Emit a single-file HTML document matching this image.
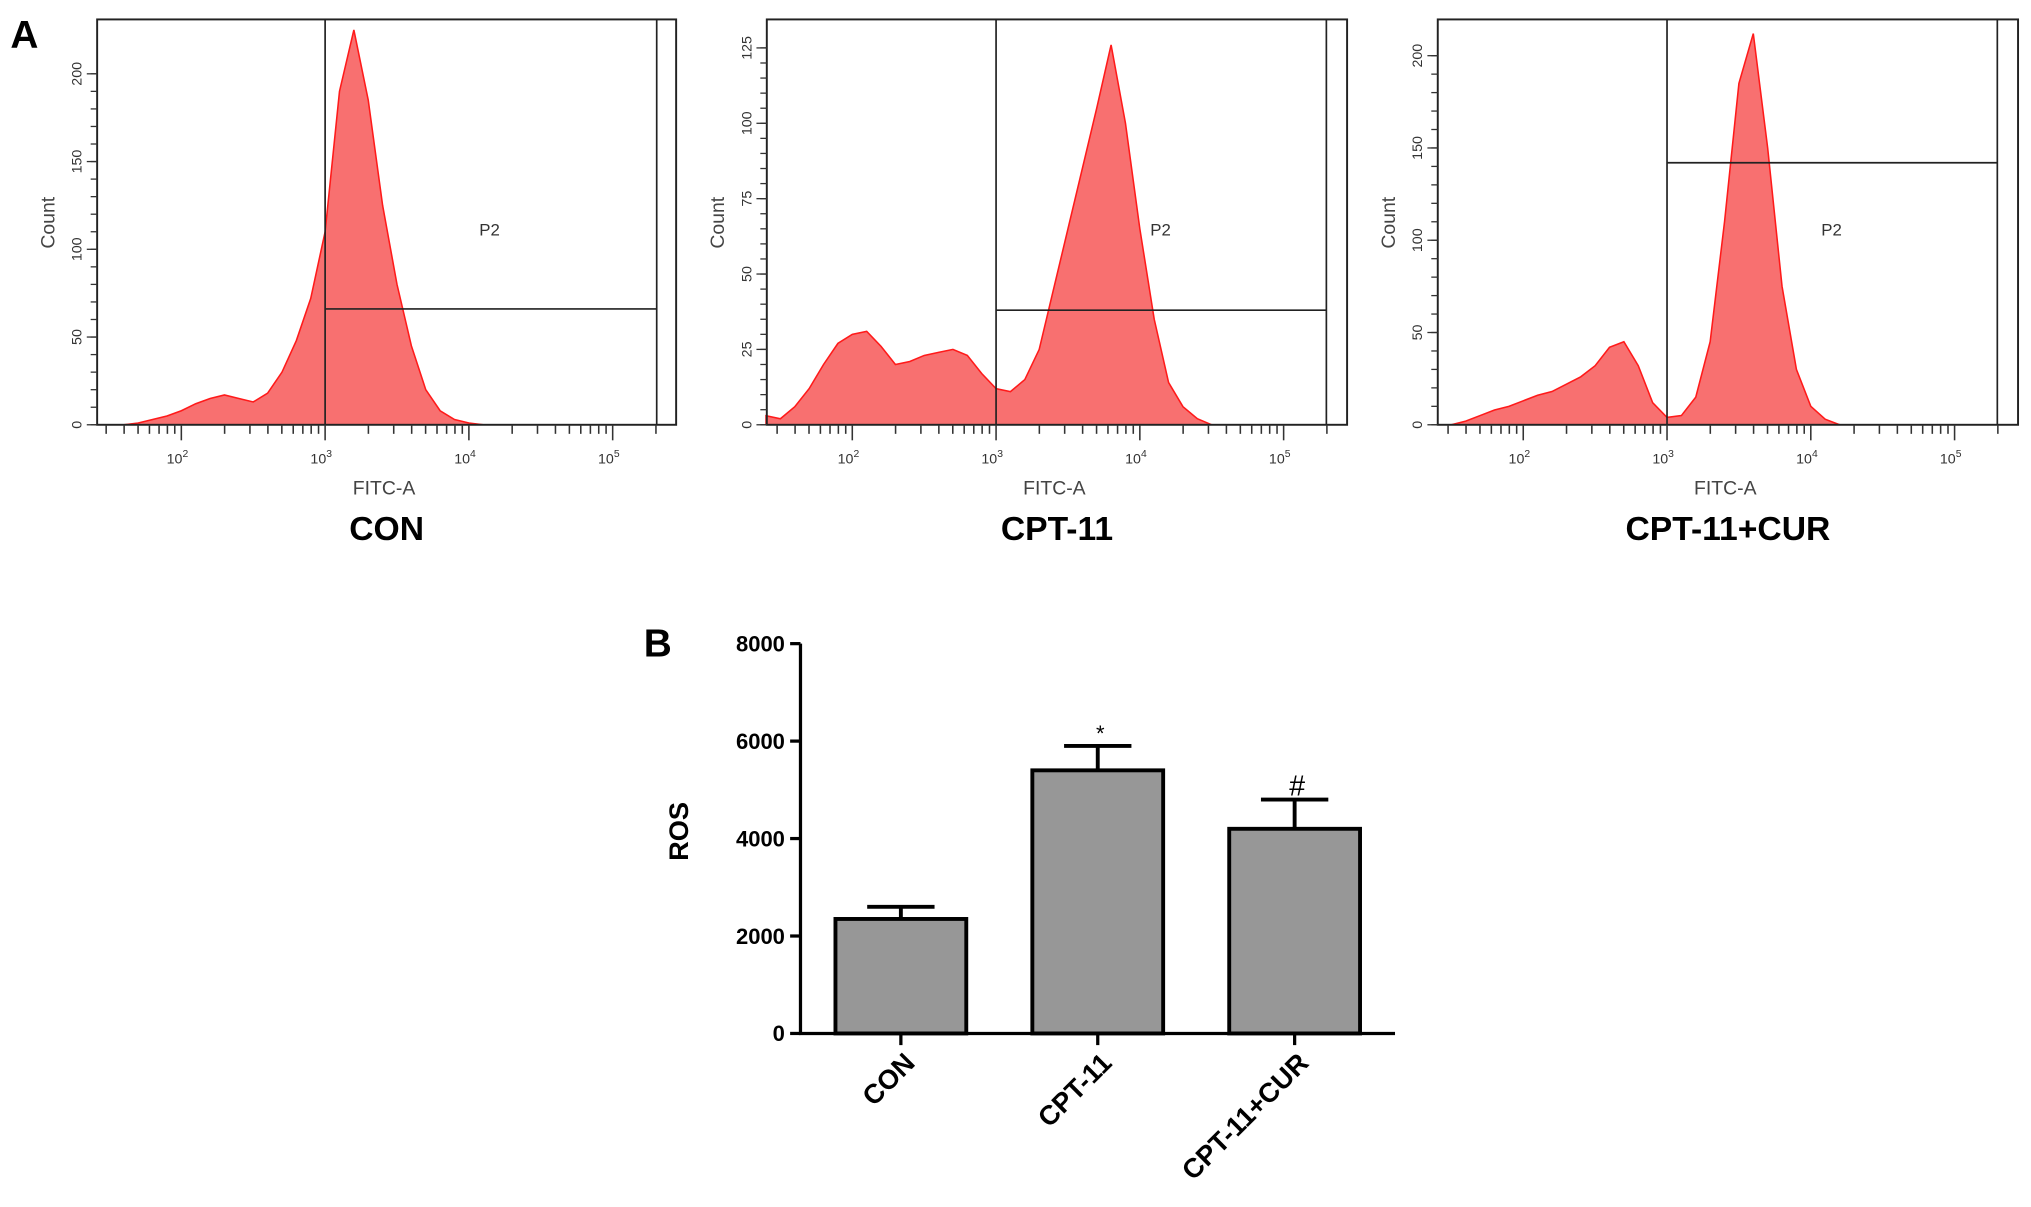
<!DOCTYPE html>
<html><head><meta charset="utf-8"><style>
html,body{margin:0;padding:0;background:#fff;}
svg{display:block;}
</style></head><body>
<svg id="fig" width="2031" height="1207" viewBox="0 0 1568 932" preserveAspectRatio="none" xmlns="http://www.w3.org/2000/svg" font-family="Liberation Sans, Arial, sans-serif">
<rect width="1568" height="932" fill="#fff"/>
<text x="8" y="37" font-size="30" font-weight="bold">A</text>
<text x="497" y="507" font-size="30" font-weight="bold">B</text>
<g id="flows"></g>
<g id="bars"></g>
</svg>
<script>
// ---- Flow histogram data (log10 FITC bins, counts) ----
const conBins = [1.4,1.5,1.6,1.7,1.8,1.9,2.0,2.1,2.2,2.3,2.4,2.5,2.6,2.7,2.8,2.9,3.0,3.1,3.2,3.3,3.4,3.5,3.6,3.7,3.8,3.9,4.0,4.1];
const conCounts = [0,0,0,1,3,5,8,12,15,17,15,13,18,30,48,72,110,190,225,185,125,80,45,20,8,3,1,0];
const cptBins = [1.4,1.5,1.6,1.7,1.8,1.9,2.0,2.1,2.2,2.3,2.4,2.5,2.6,2.7,2.8,2.9,3.0,3.1,3.2,3.3,3.4,3.5,3.6,3.7,3.8,3.9,4.0,4.1,4.2,4.3,4.4,4.5];
const cptCounts = [3,2,6,12,20,27,30,31,26,20,21,23,24,25,23,17,12,11,15,25,45,65,85,105,126,100,65,35,14,6,2,0];
const curBins = [1.5,1.6,1.7,1.8,1.9,2.0,2.1,2.2,2.3,2.4,2.5,2.6,2.7,2.8,2.9,3.0,3.1,3.2,3.3,3.4,3.5,3.6,3.7,3.8,3.9,4.0,4.1,4.2];
const curCounts = [0,2,5,8,10,13,16,18,22,26,32,42,45,32,12,4,5,15,45,110,185,212,150,75,30,10,3,0];
const conYTicks = [0,50,100,150,200];
const cptYTicks = [0,25,50,75,100,125];
const curYTicks = [0,50,100,150,200];
const xDecades = [2,3,4,5];
const titles = ["CON","CPT-11","CPT-11+CUR"];
const gateCounts = [66,38,142];
// ---- Bar chart data ----
const categories = ["CON","CPT-11","CPT-11+CUR"];
const rosValues = [2350,5400,4200];
const rosErrors = [250,500,600];
const rosTicks = [0,2000,4000,6000,8000];
const marks = ["","*","#"];

const NS="http://www.w3.org/2000/svg";
function mk(tag,attrs,parent){const e=document.createElementNS(NS,tag);for(const k in attrs)e.setAttribute(k,attrs[k]);parent.appendChild(e);return e;}

const panels=[
 {left:75,right:522,x3:251,gateR:507,ymax:200,ypx:271,bins:conBins,counts:conCounts,ticks:conYTicks,minor:10},
 {left:592,right:1040,x3:769,gateR:1024,ymax:125,ypx:291,bins:cptBins,counts:cptCounts,ticks:cptYTicks,minor:5},
 {left:1110,right:1558,x3:1287,gateR:1542,ymax:200,ypx:285,bins:curBins,counts:curCounts,ticks:curYTicks,minor:10}
];
const flows=document.getElementById('flows');
panels.forEach((p,i)=>{
  const top=15,bot=328,dec=111;
  const g=mk('g',{},flows);
  
  
  const X=v=>p.x3+(v-3)*dec;
  const Y=c=>Math.max(top,bot-c/p.ymax*p.ypx);
  let pts=X(p.bins[0])+','+bot+' ';
  p.bins.forEach((b,j)=>{pts+=X(b)+','+Y(p.counts[j])+' ';});
  pts+=X(p.bins[p.bins.length-1])+','+bot;
  const h=mk('polygon',{points:pts,fill:'#f87070',stroke:'#ff1a1a','stroke-width':1.2},g);
  
  
  const fr=mk('rect',{x:p.left,y:top,width:p.right-p.left,height:bot-top,fill:'none',stroke:'#222','stroke-width':1.5},g);
  
  
  const gy=Y(gateCounts[i]);
  const gate=mk('path',{d:`M${p.x3},${top}V${bot}M${p.gateR},${top}V${bot}M${p.x3},${gy}H${p.gateR}`,stroke:'#222','stroke-width':1.3,fill:'none'},g);
  
  
  const pl=mk('text',{x:p.x3+127,y:182,'font-size':13,fill:'#333','text-anchor':'middle'},g);pl.textContent='P2';
  
  
  for(let c=0;c<=p.ymax+p.minor/2;c+=p.minor){const y=bot-c/p.ymax*p.ypx;if(y<top)break;mk('line',{x1:p.left-5,x2:p.left,y1:y,y2:y,stroke:'#333','stroke-width':1},g);}
  p.ticks.forEach(t=>{const y=bot-t/p.ymax*p.ypx;mk('line',{x1:p.left-8,x2:p.left,y1:y,y2:y,stroke:'#333','stroke-width':1},g);
    const tx=mk('text',{x:0,y:0,'font-size':11,fill:'#333','text-anchor':'middle',transform:`translate(${p.left-12},${y}) rotate(-90)`},g);tx.textContent=t;
    
    });
  for(let d=1;d<=5;d++){for(let m=1;m<10;m++){const v=d+Math.log10(m);const x=X(v);if(x<p.left||x>p.right)continue;
    mk('line',{x1:x,x2:x,y1:bot,y2:bot+(m===1?12:7),stroke:'#333','stroke-width':1.2},g);}}
  xDecades.forEach(d=>{const x=X(d);const t=mk('text',{x:x-3,y:358,'font-size':11,fill:'#333','text-anchor':'middle'},g);t.textContent='10';
    const s=mk('tspan',{dy:-5,'font-size':8},t);s.textContent=d;
    
    });
  const cx=(p.left+p.right)/2;
  const xl=mk('text',{x:cx-2,y:382,'font-size':15,fill:'#444','text-anchor':'middle'},g);xl.textContent='FITC-A';
  
  
  const yl=mk('text',{x:0,y:0,'font-size':15,fill:'#444','text-anchor':'middle',transform:`translate(${p.left-33},172) rotate(-90)`},g);yl.textContent='Count';
  
  
  const tt=mk('text',{x:cx,y:417,'font-size':26,'font-weight':'bold','text-anchor':'middle'},g);tt.textContent=titles[i];
  
  
});

// ---- Bar chart ----
const bg=document.getElementById('bars');
const ax0=618,ay0=798,ayTop=497,axR=1077;
const yv=v=>ay0-v/8000*(ay0-ayTop);
const bw=101, centers=[695.5,847.5,999.5];
rosTicks.forEach(t=>{const y=yv(t);mk('line',{x1:ax0-8,x2:ax0,y1:y,y2:y,stroke:'#000','stroke-width':2.5},bg);
  const tx=mk('text',{x:ax0-12,y:y+6,'font-size':17,'font-weight':'bold','text-anchor':'end'},bg);tx.textContent=t;
  
  });
categories.forEach((c,i)=>{const cx=centers[i];const top=yv(rosValues[i]);const et=yv(rosValues[i]+rosErrors[i]);
  const eb=mk('path',{d:`M${cx},${top}V${et}M${cx-26},${et}H${cx+26}`,stroke:'#000','stroke-width':3,fill:'none'},bg);
  
  
  const r=mk('rect',{x:cx-bw/2,y:top,width:bw,height:ay0-top,fill:'#979797',stroke:'#000','stroke-width':3},bg);
  
  
  mk('line',{x1:cx,x2:cx,y1:ay0,y2:ay0+9,stroke:'#000','stroke-width':2.5},bg);
  const l=mk('text',{x:0,y:0,'font-size':21,'font-weight':'bold','text-anchor':'end',transform:`translate(${cx+12},${ay0+24}) rotate(-45)`},bg);l.textContent=c;
  
  
  if(marks[i]){const m=mk('text',{x:cx+2,y:et-(marks[i]==='*'?4:3),'font-size':marks[i]==='*'?17:22,'text-anchor':'middle'},bg);m.textContent=marks[i];
    
    }
});
mk('path',{d:`M${ax0},${ayTop}V${ay0}H${axR}`,stroke:'#000','stroke-width':2.5,fill:'none'},bg);
const ros=mk('text',{x:0,y:0,'font-size':21,'font-weight':'bold','text-anchor':'middle',transform:`translate(531,642) rotate(-90)`},bg);ros.textContent='ROS';


</script>
</body></html>
